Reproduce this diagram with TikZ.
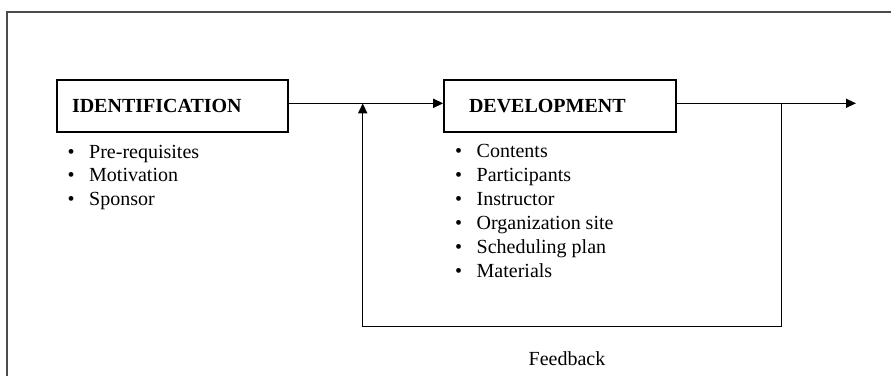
\documentclass[tikz,border=0pt]{standalone}
\usepackage{fontspec}
\setmainfont{Liberation Serif}
\usetikzlibrary{arrows.meta}

\tikzset{
  stagebox/.style={draw, line width=1.6pt, minimum height=52pt, inner ysep=0pt,
    align=left, font=\fontsize{20}{24}\selectfont\bfseries},
  item/.style={anchor=base west, inner sep=0pt, font=\fontsize{20}{24}\selectfont},
  flow/.style={line width=1.5pt, -{Triangle[length=10pt,width=9pt]}},
}

\begin{document}
\begin{tikzpicture}[x=1pt,y=-1pt]
  \useasboundingbox (0,0) rectangle (891,376);
  % outer frame, cut off at right and bottom
  \draw[black!70, line width=1.3pt] (7,376) -- (7,12) -- (891,12);

  % the two stages
  \node[stagebox, text width=201pt, inner xsep=15pt] (ident) at (172.5,105.8) {IDENTIFICATION};
  \node[stagebox, text width=182pt, inner xsep=25pt] (dev) at (560,105.8) {DEVELOPMENT};

  % bullet lists under each stage
  \foreach \txt [count=\i] in {Pre-requisites, Motivation, Sponsor}
    \node[item] (ident-\i) at (67.5,{158+23.7*(\i-1)}) {\textbullet\hspace{14.5pt}\txt};
  \foreach \txt [count=\i] in {Contents, Participants, Instructor, Organization site, Scheduling plan, Materials}
    \node[item] (dev-\i) at (455,{157.5+23.9*(\i-1)}) {\textbullet\hspace{14.5pt}\txt};

  % main line and feedback loop
  \coordinate (join) at (362.7,103.3);
  \coordinate (split) at (781.7,103.3);
  \coordinate (out) at (856,103.3);
  \coordinate (fb) at (362.7,326.5);

  \draw[flow] (ident.east |- join) -- (dev.west |- join);
  \draw[flow] (dev.east |- split) -- (out);
  \draw[flow] (split) |- (fb) -- (join);

  \node[anchor=base, inner sep=0pt, font=\fontsize{20}{24}\selectfont] (fblabel) at (567,365) {Feedback};
\end{tikzpicture}
\end{document}
